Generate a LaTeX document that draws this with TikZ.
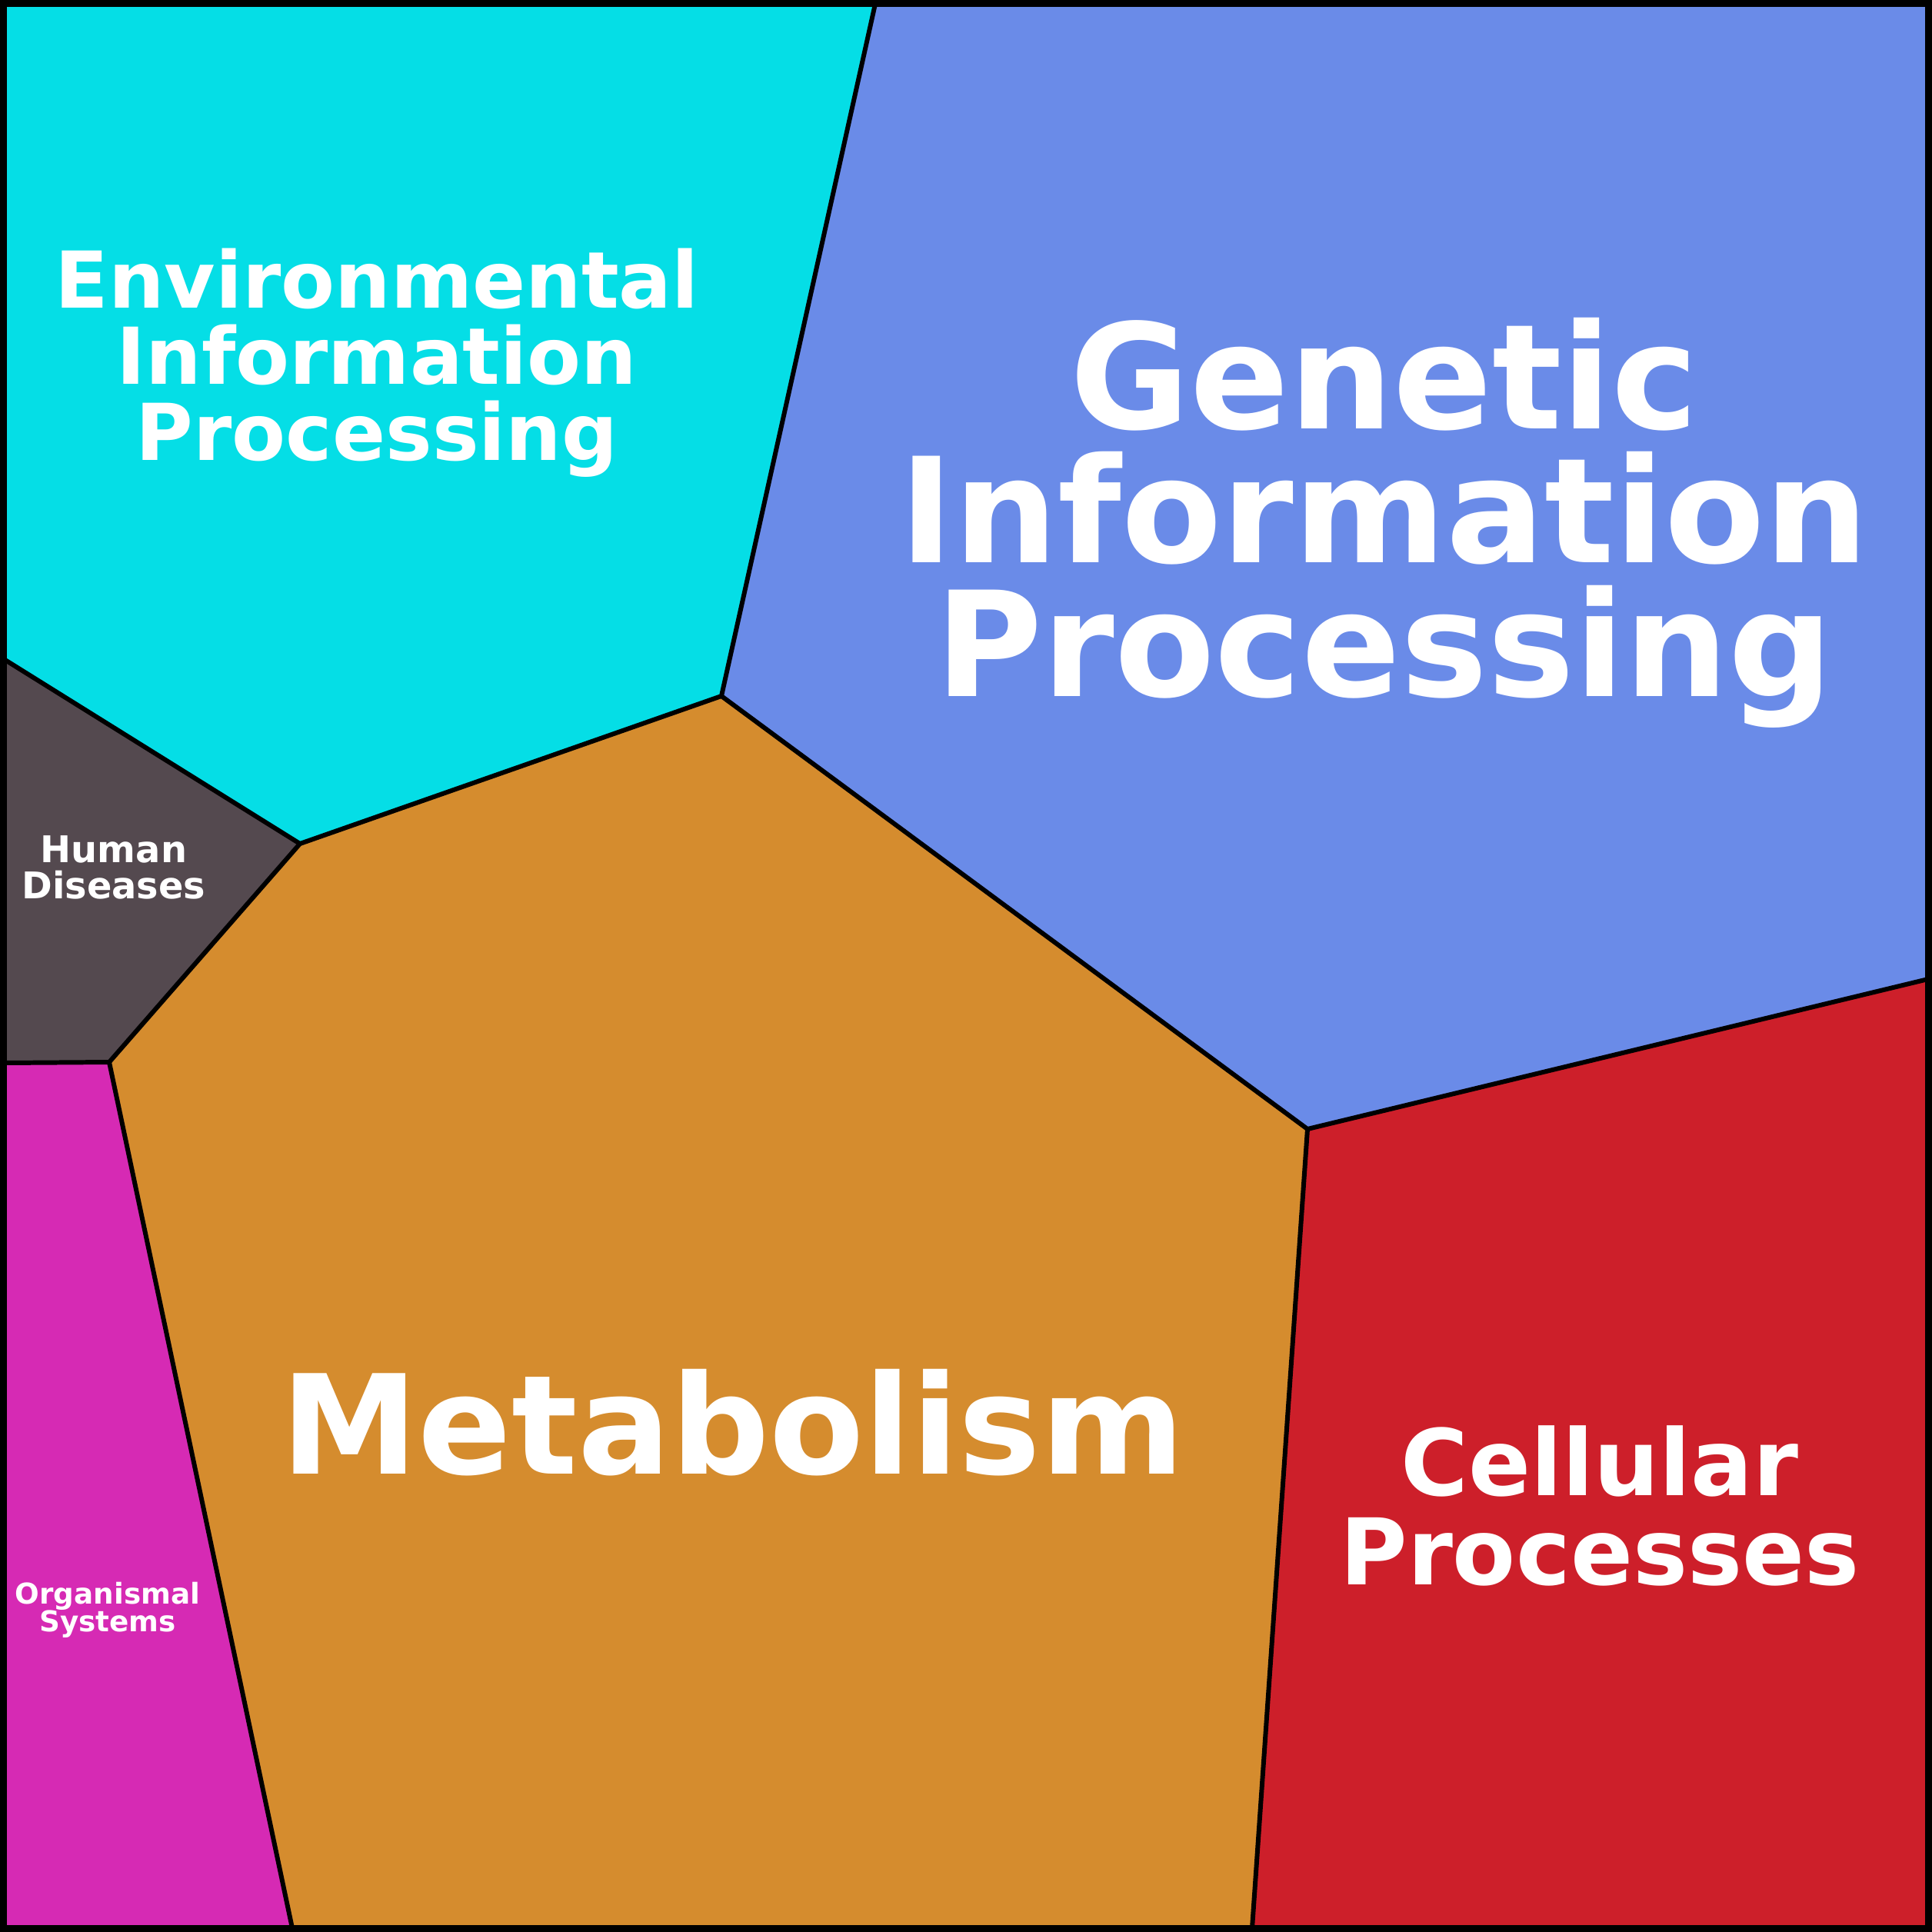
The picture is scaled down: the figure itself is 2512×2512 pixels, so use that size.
\documentclass[tikz,border=0pt]{standalone}
\usepackage{fontspec}
\setmainfont{DejaVu Sans}
\definecolor{envcol}{HTML}{05DEE6}
\definecolor{gencol}{HTML}{6A8BE8}
\definecolor{humcol}{HTML}{54494F}
\definecolor{metcol}{HTML}{D58C2E}
\definecolor{celcol}{HTML}{CD1F2A}
\definecolor{orgcol}{HTML}{D62AB4}
\tikzset{
  cell/.style={draw=black, line width=1.7pt, line join=round},
  lbl/.style={text=white, align=center, font=\bfseries}
}
\newcommand{\fsz}[2]{\fontsize{#1}{#2}\selectfont}
\begin{document}
\begin{tikzpicture}[x=0.01cm, y=-0.01cm]
\useasboundingbox (0,0) rectangle (2512,2512);

% cells
\fill[envcol] (5,5)--(1138,5)--(938,905)--(390,1097)--(5,857)--cycle;
\fill[gencol] (1138,5)--(2507,5)--(2507,1273)--(1700,1468)--(938,905)--cycle;
\fill[humcol] (5,857)--(390,1097)--(142,1381)--(5,1382)--cycle;
\fill[metcol] (390,1097)--(938,905)--(1700,1468)--(1628,2507)--(380,2507)--(142,1381)--cycle;
\fill[celcol] (1700,1468)--(2507,1273)--(2507,2507)--(1628,2507)--cycle;
\fill[orgcol] (5,1382)--(142,1381)--(380,2507)--(5,2507)--cycle;

% borders
\draw[cell] (1138,5)--(938,905)--(390,1097)--(5,857);
\draw[cell] (938,905)--(1700,1468)--(2507,1273);
\draw[cell] (390,1097)--(142,1381)--(5,1382);
\draw[cell] (1700,1468)--(1628,2507);
\draw[cell] (142,1381)--(380,2507);
\draw[line width=2.8pt] (4,4) rectangle (2508,2508);

% labels
\node[lbl, font=\bfseries\fsz{54}{49.5}] (gen) at (1800,680) {Genetic\\Information\\Processing};
\node[lbl, font=\bfseries\fsz{51}{48}] (met) at (953,1850) {Metabolism};
\node[lbl, font=\bfseries\fsz{29}{28.2}] (env) at (490,472) {Environmental\\Information\\Processing};
\node[lbl, font=\bfseries\fsz{34}{32.8}] (cel) at (2080,1958) {Cellular\\Processes};
\node[lbl, font=\bfseries\fsz{13.6}{13.3}] (hum) at (148,1128) {Human\\Diseases};
\node[lbl, font=\bfseries\fsz{10.6}{10.2}] (org) at (140,2093) {Organismal\\Systems};
\end{tikzpicture}
\end{document}
